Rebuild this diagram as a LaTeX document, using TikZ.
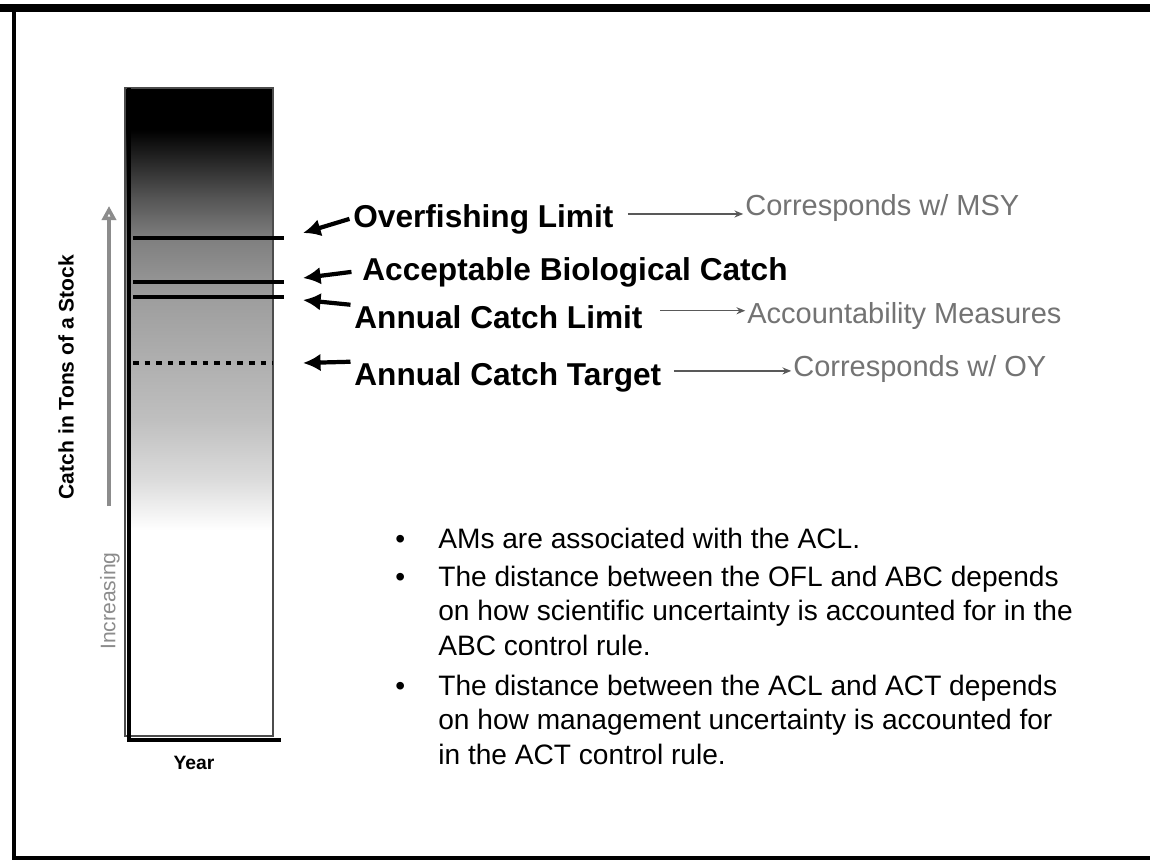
\documentclass[tikz,border=0pt]{standalone}
\usepackage{fontspec}
\setmainfont{Liberation Sans}
\usepackage{tikz}
\usetikzlibrary{arrows.meta,positioning}

\pgfdeclareverticalshading{catchfade}{100bp}{color(0bp)=(white); color(40.9bp)=(white); color(44.8bp)=(black!14); color(49.4bp)=(black!25); color(58.6bp)=(black!38); color(63.3bp)=(black!50); color(66.4bp)=(black!66); color(71.8bp)=(black); color(100bp)=(black)}

\begin{document}
\begin{tikzpicture}[x=0.02cm, y=-0.02cm,
	limit/.style={anchor=base west, inner sep=0pt, font=\fontsize{18}{21}\selectfont\bfseries},
	note/.style={anchor=base west, inner sep=0pt, text=black!55, font=\fontsize{16.5}{20}\selectfont},
	bullet/.style={anchor=base west, inner sep=0pt, align=left, font=\fontsize{16}{19.6}\selectfont},
	level/.style={line width=2.3pt},
	pointer/.style={line width=2.4pt, -{Latex[length=10pt,width=10pt]}},
	link/.style={line width=0.8pt, black!65, -{Stealth[length=5pt,width=4pt]}}]
		\useasboundingbox (0,0) rectangle (1150,860);
		\fill[white] (0,0) rectangle (1150,860);
		
		\draw[line width=4.5pt] (0,8) -- (1150,8);
		\draw[line width=2.8pt] (14,4) -- (14,860);
		\draw[line width=1.8pt] (12,858) -- (1150,858);
		
		\shade[shading=catchfade, draw=black!70, line width=0.6pt] (125,88) rectangle (273,736);
		\draw[line width=2.3pt] (129,88) -- (129,740) -- (281,740);
		
		\coordinate (oflend) at (284,238);
		\coordinate (abcend) at (284,282);
		\coordinate (aclend) at (284,297);
		\coordinate (actend) at (273,363);
		\draw[level] (133,238) -- (oflend);
		\draw[level] (133,282) -- (abcend);
		\draw[level] (133,297) -- (aclend);
		\draw[level, dash pattern=on 3.2pt off 3.4pt] (133,363) -- (actend);
		
		\node[limit] (ofl) at (353,227) {Overfishing Limit};
		\node[limit] (abc) at (362,280) {Acceptable Biological Catch};
		\node[limit] (acl) at (354,328) {Annual Catch Limit};
		\node[limit] (act) at (354,385) {Annual Catch Target};
		
		\coordinate (ofltip) at (303,233);
		\coordinate (abctip) at (303,278);
		\coordinate (acltip) at (303,300);
		\coordinate (acttip) at (303,363);
		\draw[pointer] ([xshift=-2pt]ofl.west) -- (ofltip);
		\draw[pointer] ([xshift=-6pt]abc.west) -- (abctip);
		\draw[pointer] ([xshift=-2pt]acl.north west) -- (acltip);
		\draw[pointer] ([xshift=-2pt]act.north west) -- (acttip);
		
		\node[note] (msy) at (745,215) {Corresponds w/ MSY};
		\node[note] (am) at (747,323) {Accountability Measures};
		\node[note] (oy) at (793,376) {Corresponds w/ OY};
		\draw[link] ([xshift=8pt,yshift=2.8pt]ofl.east) -- ([xshift=-1pt,yshift=2.8pt]ofl.east -| msy.west);
		\draw[link] ([xshift=10pt,yshift=3.4pt]acl.east) -- ([xshift=-1pt,yshift=3.4pt]acl.east -| am.west);
		\draw[link] ([xshift=7pt,yshift=3.4pt]act.east) -- ([xshift=-1pt,yshift=3.4pt]act.east -| oy.west);
		
		\draw[line width=2.3pt, black!45, -{Triangle[open,length=8pt,width=8pt]}] (109,506) -- (109,206);
		\node[rotate=90, text=black!45, font=\fontsize{12}{14}\selectfont] (inc) at (110,601) {Increasing};
		\node[rotate=90, font=\fontsize{12}{14}\selectfont\bfseries] (ylabel) at (66,377) {Catch in Tons of a Stock};
		\node[font=\fontsize{11}{13}\selectfont\bfseries] (xlabel) at (194,763) {Year};
		
		\node[bullet] (ams) at (438,548) {AMs are associated with the ACL.};
		\node[bullet] (oflabc) at (438,655) {The distance between the OFL and ABC depends\\on how scientific uncertainty is accounted for in the\\ABC control rule.};
		\node[bullet] (aclact) at (438,764) {The distance between the ACL and ACT depends\\on how management uncertainty is accounted for\\in the ACT control rule.};
		\foreach \y/\n in {548/ams, 586/oflabc, 695/aclact}
			\node[bullet] (dot\n) at (395,\y) {•};
		\end{tikzpicture}
\end{document}
